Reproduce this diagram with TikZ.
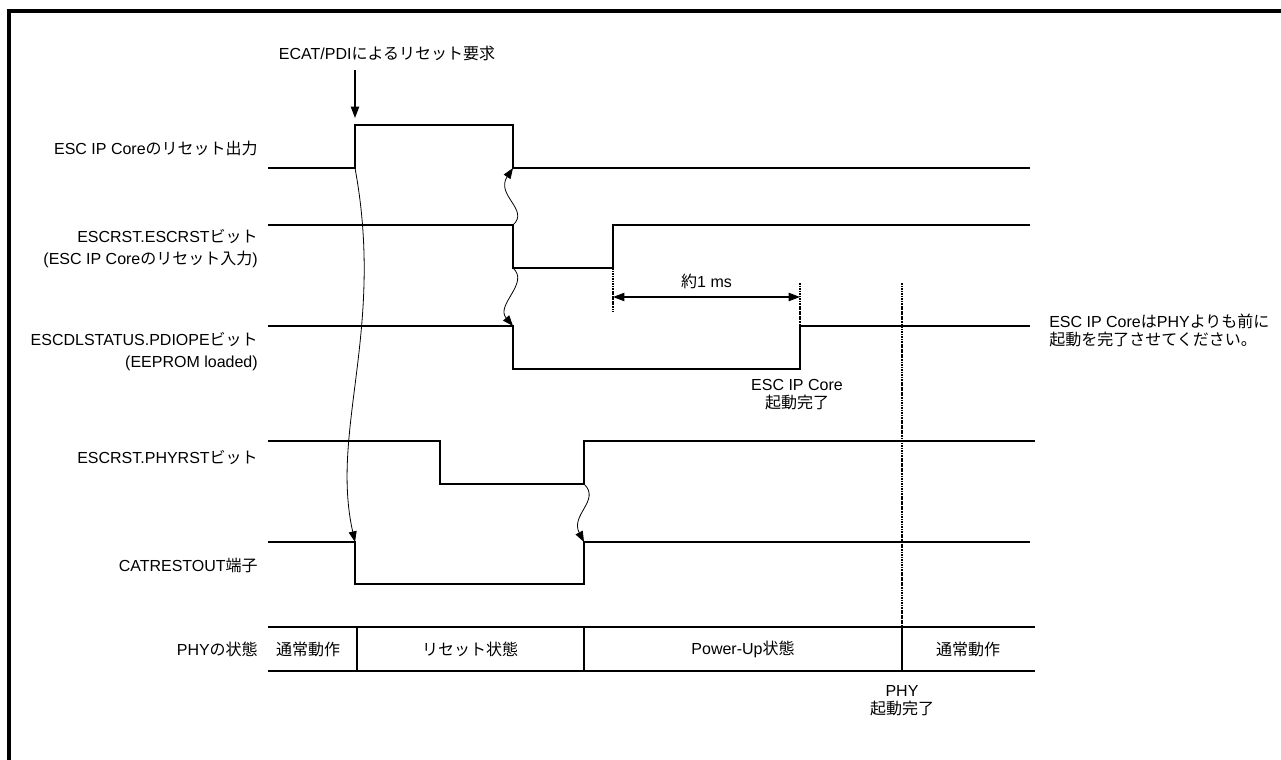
\documentclass[tikz,border=0pt]{standalone}
\usepackage{fontspec}
\setmainfont{Liberation Sans}
\newfontfamily\jpfont{Noto Sans CJK JP}
\newcommand{\jp}[1]{{\jpfont #1}}
\usetikzlibrary{arrows.meta,positioning,calc}
\tikzset{
    wave/.style={line width=1.1pt},
    cause/.style={-{Stealth[length=2.8mm, width=2.1mm, inset=0pt]}, line width=0.6pt},
    flow/.style={-{Stealth[length=3mm, width=2.2mm, inset=0pt]}, line width=0.9pt},
    span/.style={{Stealth[length=3mm, width=2.2mm, inset=0pt]}-{Stealth[length=3mm, width=2.2mm, inset=0pt]}, line width=0.9pt},
    siglabel/.style={anchor=east, align=right, font=\fontsize{12}{16.5}\selectfont, inner sep=0pt},
    note/.style={align=center, font=\fontsize{12}{13.5}\selectfont, inner sep=0pt},
    guide/.style={dash pattern=on 1.3pt off 0.6pt, line width=1.6pt},
    rowline/.style={line width=1.4pt},
    divider/.style={line width=0.8pt},
}

\begin{document}
\begin{tikzpicture}[x=0.75pt, y=-0.75pt]
    \useasboundingbox (0,0) rectangle (1281,760);
    \draw[line width=3pt] (9.3,790) -- (9.3,11.3) -- (1300,11.3);

    % signal names
    \node[siglabel] (l-out) at (258,148) {ESC IP Core\jp{のリセット出力}};
    \node[siglabel] (l-escrst) at (258,249) {ESCRST.ESCRST\jp{ビット}\\(ESC IP Core\jp{のリセット入力})};
    \node[siglabel] (l-pdiope) at (258,352) {ESCDLSTATUS.PDIOPE\jp{ビット}\\(EEPROM loaded)};
    \node[siglabel] (l-phyrst) at (258,458) {ESCRST.PHYRST\jp{ビット}};
    \node[siglabel] (l-catrst) at (258,565) {CATRESTOUT\jp{端子}};
    \node[siglabel] (l-phy) at (258,649) {PHY\jp{の状態}};

    % edges
    \coordinate (out-rise) at (355,168);
    \coordinate (out-fall) at (513,168);
    \coordinate (esc-fall) at (513,225);
    \coordinate (esc-low) at (513,268);
    \coordinate (esc-rise) at (613,268);
    \coordinate (pdi-fall) at (513,326);
    \coordinate (pdi-rise) at (800,326);
    \coordinate (phy-rise) at (584,484);
    \coordinate (cat-fall) at (355,542);
    \coordinate (cat-rise) at (584,542);

    % waveforms
    \draw[wave] (268,168) -- (out-rise) -- (355,125) -- (513,125) -- (out-fall) -- (1030,168);
    \draw[wave] (268,225) -- (esc-fall) -- (esc-low) -- (esc-rise) -- (613,225) -- (1030,225);
    \draw[wave] (268,326) -- (pdi-fall) -- (513,369) -- (800,369) -- (pdi-rise) -- (1030,326);
    \draw[wave] (268,441) -- (440,441) -- (440,484) -- (phy-rise) -- (584,441) -- (1035,441);
    \draw[wave] (268,542) -- (cat-fall) -- (355,584) -- (584,584) -- (cat-rise) -- (1030,542);

    % reset request
    \node[note] (req) at (387,53) {ECAT/PDI\jp{によるリセット要求}};
    \coordinate (req-tail) at (355,70);
    \coordinate (req-tip) at (355,118);
    \draw[flow] (req-tail) -- (req-tip);

    % causes
    \draw[cause] (out-rise) .. controls (385,330) and (330,430) .. (cat-fall);
    \draw[cause] (esc-fall) .. controls (530,210) and (495,195) .. (out-fall);
    \draw[cause] (esc-low) .. controls (530,283) and (495,305) .. (pdi-fall);
    \draw[cause] (phy-rise) .. controls (601,500) and (570,515) .. (cat-rise);

    % about 1 ms
    \coordinate (t0) at (613,297);
    \coordinate (t1) at (800,297);
    \draw[guide] (esc-rise) -- (613,312);
    \draw[guide] (800,283) -- (pdi-rise);
    \draw[span] (t0) -- node[note, above=6pt] {\jp{約}1 ms} (t1);
    \node[note] (esc-done) at (797,395) {ESC IP Core\\\jp{起動完了}};

    % PHY state
    \coordinate (phy-done) at (902,627);
    \draw[guide] (902,283) -- (phy-done);
    \draw[rowline] (268,627) -- (1035,627);
    \draw[rowline] (268,671) -- (1035,671);
    \foreach \x in {357,584,902}
        \draw[divider] (\x,627) -- (\x,671);
    \node[note] (st-a) at (308,649) {\jp{通常動作}};
    \node[note] (st-b) at (470,649) {\jp{リセット状態}};
    \node[note] (st-c) at (743,649) {Power-Up\jp{状態}};
    \node[note] (st-d) at (968,649) {\jp{通常動作}};
    \node[note] (phy-note) at (902,701) {PHY\\\jp{起動完了}};

    \node[note, anchor=west, align=left] (advice) at (1049,330) {ESC IP Core\jp{は}PHY\jp{よりも前に}\\\jp{起動を完了させてください。}};
\end{tikzpicture}
\end{document}
